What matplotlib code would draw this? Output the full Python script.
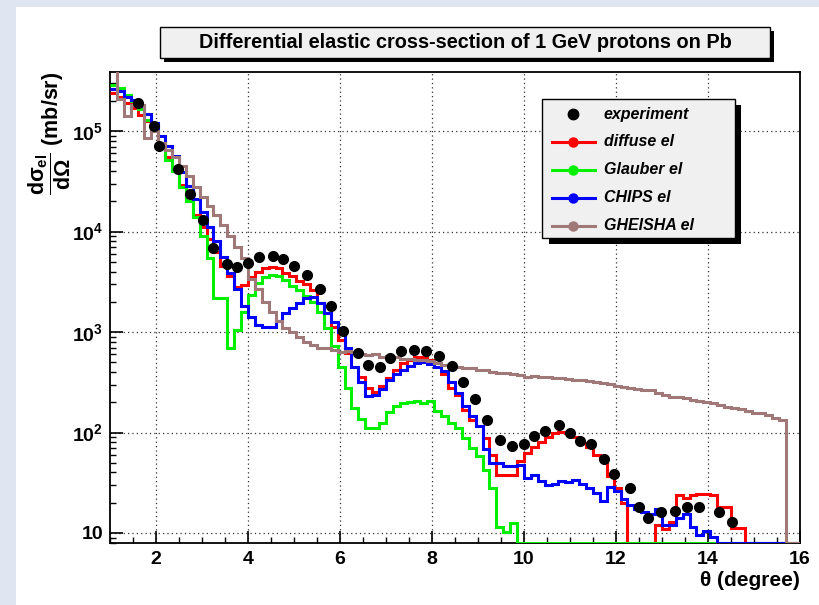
import numpy as np
import matplotlib.pyplot as plt
from matplotlib.patches import Rectangle
from matplotlib.lines import Line2D
from matplotlib.ticker import FixedLocator, MultipleLocator, LogLocator, NullFormatter

plt.rcParams['font.family'] = ['Liberation Sans', 'DejaVu Sans']
plt.rcParams['font.weight'] = 'bold'
plt.rcParams['mathtext.fontset'] = 'custom'
plt.rcParams['mathtext.rm'] = 'Liberation Sans:bold'
plt.rcParams['mathtext.it'] = 'Liberation Sans:bold'
plt.rcParams['mathtext.bf'] = 'Liberation Sans:bold'

# 100 bins of 0.15 degree between 1 and 16 degrees
edges = np.linspace(1.0, 16.0, 101)

diffuse_el = [
    2.4e5, 2.2e5, 1.9e5, 1.7e5, 1.45e5, 1.25e5, 1.0e5, 7.5e4, 5.5e4, 4.0e4,
    2.9e4, 2.0e4, 1.45e4, 1.1e4, 8.5e3, 6.3e3, 4.5e3, 3.6e3, 2.8e3, 2.95e3,
    3.5e3, 4.0e3, 4.3e3, 4.4e3, 4.3e3, 3.9e3, 3.6e3, 3.2e3, 3.0e3, 2.6e3,
    1.95e3, 1.55e3, 1.12e3, 830, 615, 450, 360, 275, 255, 290,
    350, 415, 490, 525, 560, 560, 530, 490, 380, 275,
    235, 166, 132, 117, 88, 60, 38, 38, 38, 52,
    63, 72, 81, 91, 99, 102, 100, 90, 78, 72,
    60, 55, 37, 28, 20, 0, 0, 0, 0, 12,
    11, 13, 24, 22.5, 24, 24.5, 24.5, 24, 18, 18,
    11.2, 11.2, 0, 0, 0, 0, 0, 0, 0, 0]

glauber_el = [
    2.9e5, 2.7e5, 2.3e5, 2.0e5, 1.65e5, 1.3e5, 1.08e5, 7.6e4, 5.2e4, 4.0e4,
    2.8e4, 2.0e4, 1.4e4, 9e3, 5.5e3, 2.2e3, 2.2e3, 700, 1.05e3, 1.6e3,
    2.35e3, 3.1e3, 3.5e3, 3.7e3, 3.6e3, 3.3e3, 2.9e3, 2.6e3, 2.3e3, 2.0e3,
    1.6e3, 1.1e3, 720, 450, 280, 175, 135, 110, 112, 125,
    160, 185, 195, 200, 205, 195, 205, 165, 145, 125,
    110, 88, 70, 58, 42, 28, 11.5, 10.3, 12.6, 0,
    0, 0, 0, 0, 0, 0, 0, 0, 0, 0,
    0, 0, 0, 0, 0, 0, 0, 0, 0, 0,
    0, 0, 0, 0, 0, 0, 0, 0, 0, 0,
    0, 0, 0, 0, 0, 0, 0, 0, 0, 0]

chips_el = [
    2.6e5, 2.5e5, 2.2e5, 2.05e5, 1.77e5, 1.47e5, 1.2e5, 9e4, 7.1e4, 5.6e4,
    3.9e4, 2.85e4, 2.1e4, 1.55e4, 1.1e4, 8e3, 5.6e3, 3.9e3, 2.65e3, 1.8e3,
    1.4e3, 1.17e3, 1.12e3, 1.12e3, 1.3e3, 1.55e3, 1.75e3, 1.95e3, 2.2e3, 2.25e3,
    1.95e3, 1.55e3, 1.26e3, 1.0e3, 700, 450, 320, 230, 235, 270,
    330, 380, 420, 460, 490, 500, 480, 450, 410, 320,
    250, 185, 145, 115, 68, 50, 50, 46, 46, 48,
    35, 38, 33, 30, 31, 33, 32, 34, 31, 28,
    25, 21, 29, 26, 22, 19, 17.5, 16, 15.5, 17.5,
    12, 12, 14, 15.5, 11.5, 9.5, 10.5, 9.1, 0, 0,
    0, 0, 0, 0, 0, 0, 0, 0, 0, 0]

gheisha_el = [
    6e5, 2.1e5, 1.4e5, 1.8e5, 1.8e5, 8.6e4, 1.0e5, 7.6e4, 6.5e4, 5.5e4,
    4.5e4, 3.6e4, 2.8e4, 2.2e4, 1.8e4, 1.45e4, 1.15e4, 9e3, 7e3, 5.5e3,
    3.4e3, 2.7e3, 2.0e3, 1.6e3, 1.3e3, 1.1e3, 1.0e3, 900, 800, 740,
    690, 690, 660, 630, 650, 630, 610, 590, 610, 570,
    580, 570, 545, 540, 530, 530, 520, 490, 470, 450,
    450, 435, 435, 415, 420, 400, 390, 390, 380, 370,
    360, 362, 360, 360, 350, 345, 340, 335, 330, 325,
    315, 310, 305, 290, 285, 278, 268, 265, 262, 250,
    236, 228, 225, 220, 212, 205, 200, 196, 188, 178,
    175, 170, 163, 158, 155, 148, 140, 132, 0, 0]

exp_theta = [1.6, 1.96, 2.07, 2.48, 2.74, 3.02, 3.23, 3.54, 3.77, 3.99,
             4.24, 4.54, 4.75, 5.0, 5.28, 5.57, 5.8, 6.07, 6.39, 6.61,
             6.86, 7.09, 7.33, 7.61, 7.88, 8.15, 8.43, 8.68, 8.94, 9.2,
             9.48, 9.74, 10.0, 10.22, 10.46, 10.76, 10.99, 11.22, 11.46, 11.75,
             11.95, 12.3, 12.49, 12.7, 12.97, 13.28, 13.55, 13.8, 14.25, 14.53]
exp_xsec = [1.9e5, 1.12e5, 7.1e4, 4.2e4, 2.34e4, 1.29e4, 6.8e3, 4.75e3, 4.4e3, 4.9e3,
            5.6e3, 5.7e3, 5.3e3, 4.5e3, 3.7e3, 2.66e3, 1.8e3, 1030, 622, 470,
            445, 555, 645, 660, 645, 575, 462, 316, 215, 132,
            84, 74, 77, 93, 104, 119, 100, 82, 76, 54,
            39, 28, 18, 14, 16, 16.7, 18, 18, 16, 12.9]

models = [
    ('diffuse el', diffuse_el, '#ff0000'),
    ('Glauber el', glauber_el, '#00f000'),
    ('CHIPS el', chips_el, '#0000ff'),
    ('GHEISHA el', gheisha_el, '#a07878'),
]

W, H = 820, 605
ymin, ymax = 7.95, 3.87e5


def fx(px):
    return px / W


def fy(py):
    return 1 - py / H


fig = plt.figure(figsize=(W / 100, H / 100), dpi=100)
fig.patch.set_facecolor('white')
# canvas frame
fig.patches.append(Rectangle((0, 0), fx(16), 1, transform=fig.transFigure,
                             facecolor='#dfe5f1', edgecolor='none', zorder=0))
fig.patches.append(Rectangle((0, fy(7)), 1, fy(0) - fy(7), transform=fig.transFigure,
                             facecolor='#dfe5f1', edgecolor='none', zorder=0))

ax = fig.add_axes([fx(110), fy(543), fx(800) - fx(110), fy(72) - fy(543)])
ax.set_yscale('log')
ax.set_xlim(1, 16)
ax.set_ylim(ymin, ymax)

for name, vals, col in models:
    # empty bins sit on the bottom of the frame
    v = np.clip(np.array(vals, dtype=float), ymin, None)
    ax.stairs(v, edges, baseline=None, color=col, lw=2.2, zorder=3)

ax.plot(exp_theta, exp_xsec, 'o', color='black', ms=7, zorder=5)

ax.xaxis.set_major_locator(MultipleLocator(2))
ax.xaxis.set_minor_locator(MultipleLocator(0.5))
ax.yaxis.set_major_locator(FixedLocator([10, 1e2, 1e3, 1e4, 1e5]))
ax.yaxis.set_minor_locator(LogLocator(base=10, subs=np.arange(2, 10)))
ax.yaxis.set_minor_formatter(NullFormatter())
ax.set_yticklabels(['10', r'$10^{2}$', r'$10^{3}$', r'$10^{4}$', r'$10^{5}$'])
ax.set_xticks(range(2, 17, 2))
ax.set_xticklabels([str(t) for t in range(2, 17, 2)])
ax.tick_params(which='major', direction='in', length=9, width=1.2, labelsize=14,
               top=False, right=False)
ax.tick_params(which='minor', direction='in', length=4.5, width=1.0,
               top=False, right=False)
ax.tick_params(axis='x', pad=6)
ax.tick_params(axis='y', pad=5)
for lab in ax.get_xticklabels() + ax.get_yticklabels():
    lab.set_fontweight('bold')

ax.grid(True, which='major', color='#333333', linestyle=(0, (1, 2.5)), lw=0.9)
for s in ax.spines.values():
    s.set_linewidth(1.3)

fig.text(fx(800), fy(580), 'θ (degree)', ha='right', va='center',
         fontsize=15, fontweight='bold')
fig.text(fx(50), fy(72), r'$\dfrac{d\sigma_{el}}{d\Omega}$ (mb/sr)', rotation=90,
         ha='center', va='top', fontsize=15.5, fontweight='bold')

# title box with shadow
fig.patches.append(Rectangle((fx(164), fy(62)), fx(774) - fx(164), fy(31) - fy(62),
                             transform=fig.transFigure, facecolor='black',
                             edgecolor='none', zorder=1))
fig.patches.append(Rectangle((fx(160), fy(58)), fx(770) - fx(160), fy(27) - fy(58),
                             transform=fig.transFigure, facecolor='#f0f0f0',
                             edgecolor='black', lw=1, zorder=2))
fig.text(fx(465), fy(42.5), 'Differential elastic cross-section of 1 GeV protons on Pb',
         ha='center', va='center', fontsize=14.3, fontweight='bold', zorder=3)

# legend box with shadow
fig.patches.append(Rectangle((fx(549), fy(244)), fx(741) - fx(549), fy(105) - fy(244),
                             transform=fig.transFigure, facecolor='black',
                             edgecolor='none', zorder=6))
fig.patches.append(Rectangle((fx(542), fy(238)), fx(735) - fx(542), fy(99) - fy(238),
                             transform=fig.transFigure, facecolor='#f0f0f0',
                             edgecolor='black', lw=1, zorder=7))
entries = [('experiment', 'black', False)] + [(n, c, True) for n, _, c in models]
rows = [114, 142, 170, 198, 226]
for (label, col, with_line), py in zip(entries, rows):
    if with_line:
        fig.lines.append(Line2D([fx(552), fx(595)], [fy(py), fy(py)],
                                transform=fig.transFigure, color=col, lw=2.2, zorder=8))
    fig.lines.append(Line2D([fx(573)], [fy(py)], transform=fig.transFigure,
                            marker='o', ms=6.5 if with_line else 7.5, color=col,
                            lw=0, zorder=9))
    fig.text(fx(604), fy(py), label, ha='left', va='center', fontsize=11.5,
             fontweight='bold', fontstyle='italic', zorder=9)

fig.savefig('out.png', dpi=100)
